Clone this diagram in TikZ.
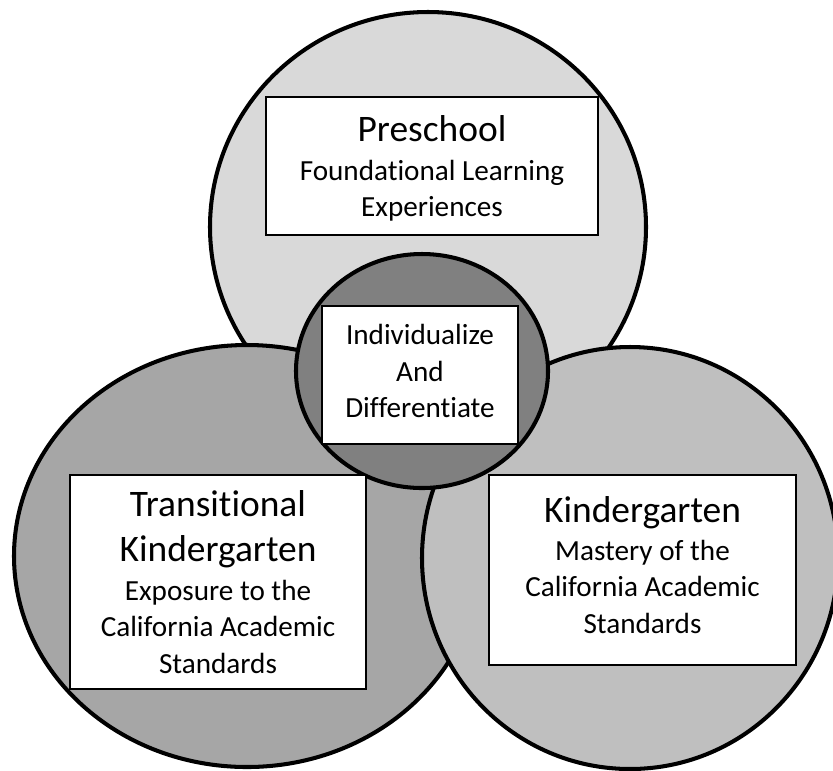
\documentclass[tikz,border=0pt]{standalone}
\usepackage{fontspec}
\setmainfont{Carlito}[Ligatures=NoCommon]
\usetikzlibrary{shapes.geometric}

\newcommand{\headfont}{\fontsize{21.3}{25}\selectfont}

\begin{document}
\begin{tikzpicture}[thick,
                ring/.style={ellipse,draw,line width=2.3pt,inner sep=0pt},
                info box/.style={rectangle,draw,line width=0.8pt,fill=white,align=center,
                  inner sep=0pt,font=\fontsize{16.6}{20.8}\selectfont}]
                \clip (0,0) rectangle (16.66,-15.4);
                % outer rings, then the one in the middle
                \node[ring,fill=black!15,minimum width=8.72cm,minimum height=8.6cm] (pre) at (8.56,-4.54) {};
                \node[ring,fill=black!35,minimum width=9.32cm,minimum height=8.44cm] (tk) at (4.94,-11.12) {};
                \node[ring,fill=black!25,minimum width=8.32cm,minimum height=8.44cm] (kg) at (12.6,-11.16) {};
                \node[ring,fill=black!50,minimum width=5.04cm,minimum height=4.68cm] (core) at (8.44,-7.42) {};

                \node[info box,minimum width=6.64cm,minimum height=2.76cm,text depth=-2.3pt] (pre box) at (8.64,-3.32)
                  {{\headfont Preschool}\\[1.5pt] Foundational Learning\\ Experiences};
                \node[info box,minimum width=3.92cm,minimum height=2.76cm,text depth=4.6pt] (core box) at (8.4,-7.5)
                  {Individualize\\ And\\ Differentiate};
                \node[info box,minimum width=5.92cm,minimum height=4.28cm,text depth=-6pt] (tk box) at (4.36,-11.64)
                  {{\headfont Transitional}\\[5pt] {\headfont Kindergarten}\\[1pt] Exposure to the\\
                   California Academic\\ Standards};
                \node[info box,minimum width=6.14cm,minimum height=3.8cm,text depth=5.7pt] (kg box) at (12.85,-11.4)
                  {{\headfont Kindergarten}\\[0.5pt] Mastery of the\\ California Academic\\ Standards};
                \end{tikzpicture}
\end{document}
